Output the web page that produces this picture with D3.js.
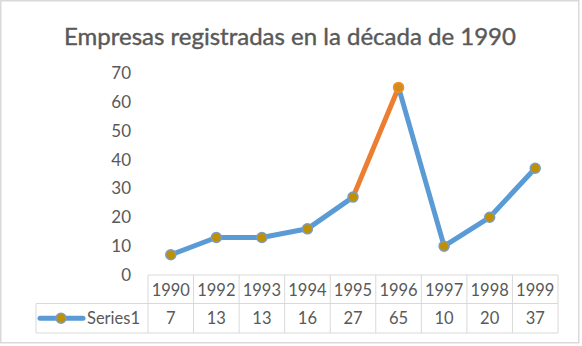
<!DOCTYPE html>
<html><head><meta charset="utf-8">
<script src="https://cdn.jsdelivr.net/npm/d3@7"></script>
<style>html,body{margin:0;padding:0;background:#fff;}svg{display:block;}</style>
</head><body>
<svg id="c" width="582" height="346"></svg>
<script>
const title = "Empresas registradas en la década de 1990";
const years = ["1990","1992","1993","1994","1995","1996","1997","1998","1999"];
const values = [7,13,13,16,27,65,10,20,37];
const seriesName = "Series1";
const yTicks = [0,10,20,30,40,50,60,70];
const highlightYear = "1996";

(function(){
const FONT = "Lato, 'Open Sans', sans-serif";
const svg = d3.select("#c");
const W = 582, H = 346;
svg.append("rect").attr("x",0.75).attr("y",0.75).attr("width",W-4).attr("height",H-4)
  .attr("fill","#fff").attr("stroke","#d9d9d9").attr("stroke-width",1.5);

svg.append("text").attr("x",290).attr("y",45).attr("text-anchor","middle")
  .attr("font-family",FONT).attr("font-size",24).attr("fill","#595959")
  .attr("stroke","#595959").attr("stroke-width",0.4).text(title);

const x = d3.scaleBand().domain(years).range([148,558]);
const y = d3.scaleLinear().domain([0,70]).range([275,73]);

const yAxis = d3.axisLeft(y).tickValues(yTicks).tickSize(0).tickPadding(0);
const ya = svg.append("g").attr("transform","translate(131,0)").call(yAxis);
ya.select(".domain").remove();
ya.selectAll("text").attr("font-family",FONT).attr("font-size",17).attr("fill","#595959");

const grid = "#d9d9d9";
const tTop = 275, tMid = 303.5, tBot = 333;
const tb = svg.append("g");
tb.append("line").attr("x1",x.range()[0]).attr("x2",x.range()[1]).attr("y1",tTop).attr("y2",tTop).attr("stroke",grid);
tb.append("line").attr("x1",36).attr("x2",x.range()[1]).attr("y1",tMid).attr("y2",tMid).attr("stroke",grid);
tb.append("line").attr("x1",36).attr("x2",x.range()[1]).attr("y1",tBot).attr("y2",tBot).attr("stroke",grid);
tb.append("line").attr("x1",36).attr("x2",36).attr("y1",tMid).attr("y2",tBot).attr("stroke",grid);
const bounds = years.map(d=>x(d)).concat([x.range()[1]]);
tb.selectAll("line.v").data(bounds).join("line").attr("class","v")
  .attr("x1",d=>d).attr("x2",d=>d).attr("y1",tTop).attr("y2",tBot).attr("stroke",grid);
tb.selectAll("text.yr").data(years).join("text").attr("class","yr")
  .attr("x",d=>x(d)+x.bandwidth()/2).attr("y",(tTop+tMid)/2+1).attr("dy","0.35em")
  .attr("text-anchor","middle").attr("font-family",FONT).attr("font-size",16.5).attr("fill","#595959").text(d=>d);
tb.selectAll("text.val").data(values).join("text").attr("class","val")
  .attr("x",(d,i)=>x(years[i])+x.bandwidth()/2).attr("y",(tMid+tBot)/2).attr("dy","0.35em")
  .attr("text-anchor","middle").attr("font-family",FONT).attr("font-size",16.5).attr("fill","#595959").text(d=>d);

const blue = "#5b9bd5", orange = "#ed7d31", gold = "#bf9000";
const ly = (tMid+tBot)/2;
tb.append("line").attr("x1",40).attr("x2",83).attr("y1",ly).attr("y2",ly).attr("stroke",blue).attr("stroke-width",5).attr("stroke-linecap","round");
tb.append("circle").attr("cx",61).attr("cy",ly).attr("r",5).attr("fill",gold).attr("stroke","#7d9cc0").attr("stroke-width",1.5);
tb.append("text").attr("x",87).attr("y",ly).attr("dy","0.35em").attr("font-family",FONT).attr("font-size",16.5).attr("fill","#595959").text(seriesName);

const pts = years.map((d,i)=>({yr:d, v:values[i], px:x(d)+x.bandwidth()/2, py:y(values[i])}));
const segs = d3.pairs(pts);
svg.append("g").selectAll("line").data(segs).join("line")
  .attr("x1",d=>d[0].px).attr("y1",d=>d[0].py).attr("x2",d=>d[1].px).attr("y2",d=>d[1].py)
  .attr("stroke",d=>d[1].yr===highlightYear?orange:blue).attr("stroke-width",5).attr("stroke-linecap","round");
svg.append("g").selectAll("circle").data(pts).join("circle")
  .attr("cx",d=>d.px).attr("cy",d=>d.py).attr("r",5)
  .attr("fill",d=>d.yr===highlightYear?"#d98a1a":gold)
  .attr("stroke",d=>d.yr===highlightYear?"#e8942e":"#7d9cc0").attr("stroke-width",1.5);
})();
</script>
</body></html>
